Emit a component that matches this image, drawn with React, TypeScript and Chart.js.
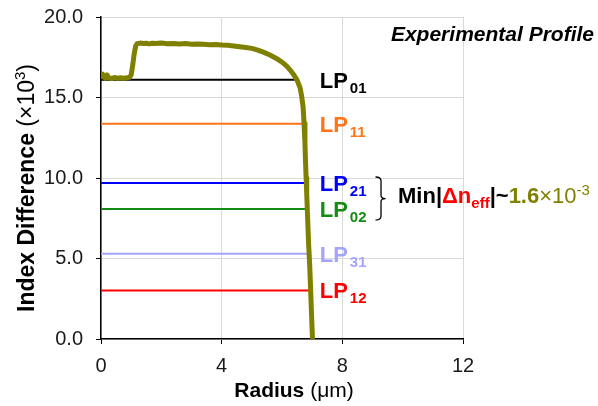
import React, { useEffect, useRef } from 'react';
import { Chart, registerables } from 'chart.js';

Chart.register(...registerables);

// ---- data ----
const profileRadius = [
  0.0, 0.05, 0.1, 0.15, 0.2, 0.25, 0.35, 0.45, 0.55, 0.65, 0.75, 0.85, 0.95, 1.0, 1.05, 1.1, 1.15, 1.2,
  1.3, 1.4, 1.5, 1.6, 1.7, 1.8, 2.0, 2.2, 2.4, 2.6, 2.8, 3.0, 3.2, 3.4, 3.6, 3.8, 4.0, 4.2, 4.4, 4.6,
  4.8, 5.0, 5.2, 5.4, 5.6, 5.8, 6.0, 6.1, 6.2, 6.3, 6.4, 6.5, 6.6, 6.65, 6.7, 6.73, 6.76, 6.78, 6.8,
  6.82, 6.85, 6.88, 6.92, 6.95, 6.98, 7.01,
];
const profileIndex = [
  16.35, 16.45, 16.25, 16.2, 16.4, 16.22, 16.18, 16.24, 16.2, 16.22, 16.2, 16.22, 16.26, 16.4, 17.0, 17.7, 18.2, 18.34,
  18.38, 18.35, 18.37, 18.33, 18.37, 18.35, 18.38, 18.34, 18.36, 18.32, 18.35, 18.31, 18.32, 18.3, 18.28, 18.29, 18.26, 18.24, 18.2, 18.15,
  18.1, 18.05, 17.94, 17.8, 17.64, 17.44, 17.2, 17.04, 16.86, 16.64, 16.38, 16.08, 15.6, 15.1, 14.4, 13.4, 12.2, 11.0, 10.0,
  9.0, 7.5, 6.0, 4.5, 3.0, 1.5, 0.0,
];

const modeSub = ['01', '11', '21', '02', '31', '12'];
const modeIndex = [16.1, 13.37, 9.69, 8.07, 5.3, 3.02];
const modeEnd = [6.53, 6.72, 6.8, 6.82, 6.86, 6.93];
const modeColors = ['#000000', '#ff7416', '#0000ff', '#148c14', '#a4a4ff', '#ff0000'];

const xMin = 0;
const xMax = 12;
const xStep = 4;
const yMin = 0;
const yMax = 20;
const yStep = 5;

const FONT = "'Liberation Sans', Arial, sans-serif";
const OLIVE = '#808000';

const annotationPlugin = {
  id: 'annotations',
  afterDraw(chart: any) {
    const ctx: CanvasRenderingContext2D = chart.ctx;
    const xs = chart.scales.x;
    const ys = chart.scales.y;
    const area = chart.chartArea;
    ctx.save();

    // Mode labels
    const lx = xs.getPixelForValue(7.25);
    modeSub.forEach((sub, i) => {
      const py = ys.getPixelForValue(modeIndex[i]);
      ctx.fillStyle = modeColors[i];
      ctx.textAlign = 'left';
      ctx.textBaseline = 'alphabetic';
      ctx.font = `bold 22px ${FONT}`;
      ctx.fillText('LP', lx, py + 8);
      const w = ctx.measureText('LP').width;
      ctx.font = `bold 15px ${FONT}`;
      ctx.fillText(sub, lx + w + 2, py + 13);
    });

    // Brace
    const top = ys.getPixelForValue(modeIndex[2]) - 6;
    const bottom = ys.getPixelForValue(modeIndex[3]) + 11;
    const mid = (top + bottom) / 2;
    const bx0 = xs.getPixelForValue(9.1);
    const bx = bx0 + 5.5;
    ctx.strokeStyle = '#000';
    ctx.lineWidth = 1.3;
    ctx.beginPath();
    ctx.moveTo(bx0, top);
    ctx.quadraticCurveTo(bx, top, bx, top + 4);
    ctx.lineTo(bx, mid - 3);
    ctx.quadraticCurveTo(bx, mid, bx + 4.5, mid);
    ctx.quadraticCurveTo(bx, mid, bx, mid + 3);
    ctx.lineTo(bx, bottom - 4);
    ctx.quadraticCurveTo(bx, bottom, bx0, bottom);
    ctx.stroke();

    // Min|Δn_eff|~1.6×10-3
    let tx = bx + 17;
    const tb = mid + 4;
    const seg = (text: string, font: string, color: string, dy: number) => {
      ctx.font = font;
      ctx.fillStyle = color;
      ctx.fillText(text, tx, tb + dy);
      tx += ctx.measureText(text).width;
    };
    seg('Min|', `bold 22px ${FONT}`, '#000', 0);
    seg('\u0394n', `bold 22px ${FONT}`, '#ff0000', 0);
    seg('eff', `bold 15px ${FONT}`, '#ff0000', 5);
    seg('|~', `bold 22px ${FONT}`, '#000', 0);
    seg('1.6', `bold 22px ${FONT}`, OLIVE, 0);
    seg('\u00d710', `22px ${FONT}`, OLIVE, 0);
    seg('-3', `15px ${FONT}`, OLIVE, -8);

    // Experimental Profile
    ctx.font = `italic bold 21px ${FONT}`;
    ctx.fillStyle = '#000';
    ctx.textAlign = 'right';
    ctx.fillText('Experimental Profile', 594, 41);

    // X title
    ctx.textAlign = 'left';
    ctx.font = `bold 21px ${FONT}`;
    const w1 = ctx.measureText('Radius').width;
    ctx.font = `21px ${FONT}`;
    const w2 = ctx.measureText(' (\u03bcm)').width;
    const cx = (area.left + area.right) / 2 + 12;
    const sx = cx - (w1 + w2) / 2;
    ctx.fillStyle = '#000';
    ctx.font = `bold 21px ${FONT}`;
    ctx.fillText('Radius', sx, 397);
    ctx.font = `21px ${FONT}`;
    ctx.fillText(' (\u03bcm)', sx + w1, 397);

    // Y title
    ctx.font = `bold 23px ${FONT}`;
    const a1 = ctx.measureText('Index Difference ').width;
    ctx.font = `23px ${FONT}`;
    const a2 = ctx.measureText('(\u00d710').width;
    ctx.font = `15px ${FONT}`;
    const a3 = ctx.measureText('3').width;
    ctx.font = `23px ${FONT}`;
    const a4 = ctx.measureText(')').width;
    const total = a1 + a2 + a3 + a4;
    const cy = (area.top + area.bottom) / 2 + 10;
    ctx.translate(34, cy + total / 2);
    ctx.rotate(-Math.PI / 2);
    let p = 0;
    ctx.font = `bold 23px ${FONT}`;
    ctx.fillText('Index Difference ', p, 0);
    p += a1;
    ctx.font = `23px ${FONT}`;
    ctx.fillText('(\u00d710', p, 0);
    p += a2;
    ctx.font = `15px ${FONT}`;
    ctx.fillText('3', p, -9);
    p += a3;
    ctx.font = `23px ${FONT}`;
    ctx.fillText(')', p, 0);

    ctx.restore();
  },
};

export default function App() {
  const canvasRef = useRef<HTMLCanvasElement | null>(null);

  useEffect(() => {
    const canvas = canvasRef.current;
    if (!canvas) return;
    const datasets: any[] = [
      {
        label: 'Profile',
        data: profileRadius.map((r, i) => ({ x: r, y: profileIndex[i] })),
        borderColor: OLIVE,
        borderWidth: 5,
        pointRadius: 0,
        tension: 0,
        borderJoinStyle: 'round',
        borderCapStyle: 'round',
        order: 0,
      },
      ...modeSub.map((sub, i) => ({
        label: 'LP' + sub,
        data: [
          { x: 0, y: modeIndex[i] },
          { x: modeEnd[i], y: modeIndex[i] },
        ],
        borderColor: modeColors[i],
        borderWidth: 2,
        pointRadius: 0,
        order: 1,
      })),
    ];

    const chart = new Chart(canvas, {
      type: 'line',
      data: { datasets },
      options: {
        responsive: false,
        animation: false,
        devicePixelRatio: 1,
        layout: { padding: { top: 17, right: 135, left: 0, bottom: 0 } },
        plugins: { legend: { display: false }, tooltip: { enabled: false } },
        scales: {
          x: {
            type: 'linear',
            min: xMin,
            max: xMax,
            ticks: { stepSize: xStep, color: '#1a1a1a', font: { family: FONT, size: 20 }, padding: 10 },
            grid: { color: '#d9d9d9', lineWidth: 1, tickColor: '#000', tickLength: 5 },
            border: { color: '#000', width: 1.5 },
            afterFit: (s: any) => {
              s.height = 67;
              s.paddingLeft = 0;
              s.paddingRight = 0;
            },
          },
          y: {
            type: 'linear',
            min: yMin,
            max: yMax,
            ticks: {
              stepSize: yStep,
              color: '#1a1a1a',
              font: { family: FONT, size: 20 },
              padding: 13,
              callback: (v: any) => Number(v).toFixed(1),
            },
            grid: { color: '#d9d9d9', lineWidth: 1, tickColor: '#000', tickLength: 5 },
            border: { color: '#000', width: 1.5 },
            afterFit: (s: any) => {
              s.width = 101;
              s.paddingTop = 0;
              s.paddingBottom = 0;
            },
          },
        },
      },
      plugins: [annotationPlugin],
    });
    return () => chart.destroy();
  }, []);

  return (
    <div style={{ position: 'absolute', left: 0, top: 0, width: 598, height: 406, background: '#fff' }}>
      <canvas ref={canvasRef} width={598} height={406} style={{ display: 'block' }} />
    </div>
  );
}
